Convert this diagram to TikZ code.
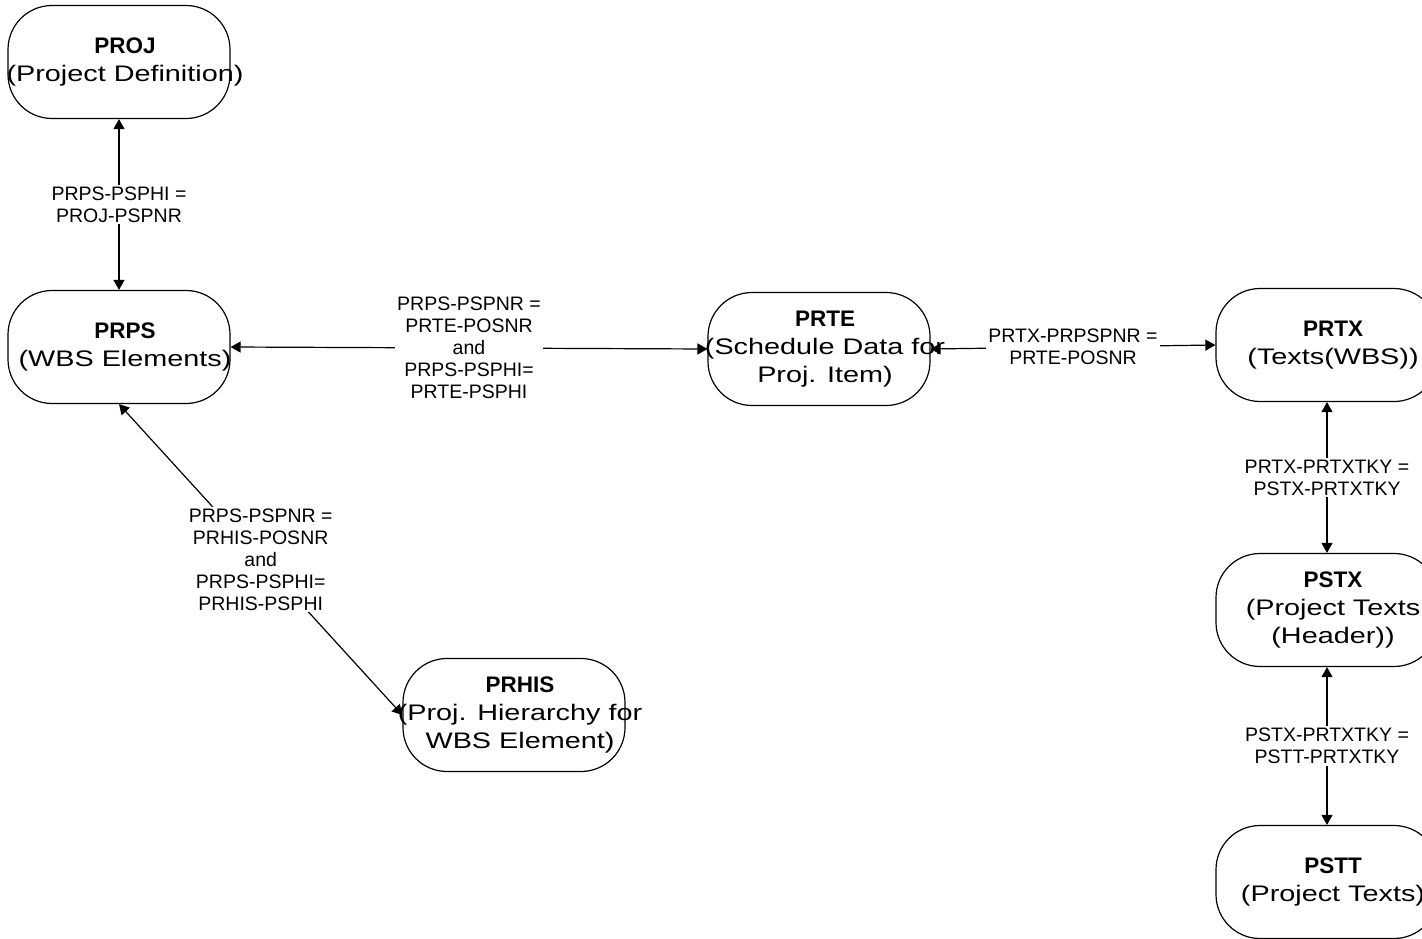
\documentclass[tikz,border=0pt]{standalone}
\usepackage{fontspec}
\setmainfont{Liberation Sans}
\newfontfamily\descfont[FakeStretch=1.28]{Liberation Sans}
\usetikzlibrary{arrows.meta}

\begin{document}
\begin{tikzpicture}[x=1pt,y=-1pt,
    entity/.style={draw,line width=1.2pt,rounded corners=44pt,
      minimum width=222pt,minimum height=113pt},
    etext/.style={align=center,xshift=6pt,font=\fontsize{22.5}{28}\selectfont\descfont},
    rel/.style={align=center,fill=white,inner sep=2pt,
      font=\fontsize{19.5}{22}\selectfont},
    link/.style={line width=1.2pt,
      {Triangle[length=10pt,width=11pt]}-{Triangle[length=10pt,width=11pt]}}]
  \useasboundingbox (0,0) rectangle (1422,939);
  \fill[white] (0,0) rectangle (1422,939);

  % Tablas
  \node[entity,label={[etext]center:{{\normalfont\bfseries PROJ}\\(Project Definition)}}] (proj) at (119,62) {};
  \node[entity,label={[etext]center:{{\normalfont\bfseries PRPS}\\(WBS Elements)}}] (prps) at (119,347) {};
  \node[entity,label={[etext]center:{{\normalfont\bfseries PRTE}\\(Schedule Data for\\Proj. Item)}}] (prte) at (819,349) {};
  \node[entity,label={[etext]center:{{\normalfont\bfseries PRTX}\\(Texts(WBS))}}] (prtx) at (1327,345) {};
  \node[entity,label={[etext]center:{{\normalfont\bfseries PSTX}\\(Project Texts\\(Header))}}] (pstx) at (1327,610) {};
  \node[entity,label={[etext]center:{{\normalfont\bfseries PSTT}\\(Project Texts)}}] (pstt) at (1327,882) {};
  \node[entity,label={[etext]center:{{\normalfont\bfseries PRHIS}\\(Proj. Hierarchy for\\WBS Element)}}] (prhis) at (514,715) {};

  % Relaciones
  \draw[link] (proj.south) -- node[rel] {PRPS-PSPHI =\\PROJ-PSPNR} (prps.north);
  \draw[link] (prps.east) -- node[rel] {PRPS-PSPNR =\\PRTE-POSNR\\and\\PRPS-PSPHI=\\PRTE-PSPHI} (prte.west);
  \draw[link] (prte.east) -- node[rel] {PRTX-PRPSPNR =\\PRTE-POSNR} (prtx.west);
  \draw[link] (prtx.south) -- node[rel] {PRTX-PRTXTKY =\\PSTX-PRTXTKY} (pstx.north);
  \draw[link] (pstx.south) -- node[rel] {PSTX-PRTXTKY =\\PSTT-PRTXTKY} (pstt.north);
  \draw[link] (prps.south) -- node[rel] {PRPS-PSPNR =\\PRHIS-POSNR\\and\\PRPS-PSPHI=\\PRHIS-PSPHI} (prhis.west);
\end{tikzpicture}
\end{document}
